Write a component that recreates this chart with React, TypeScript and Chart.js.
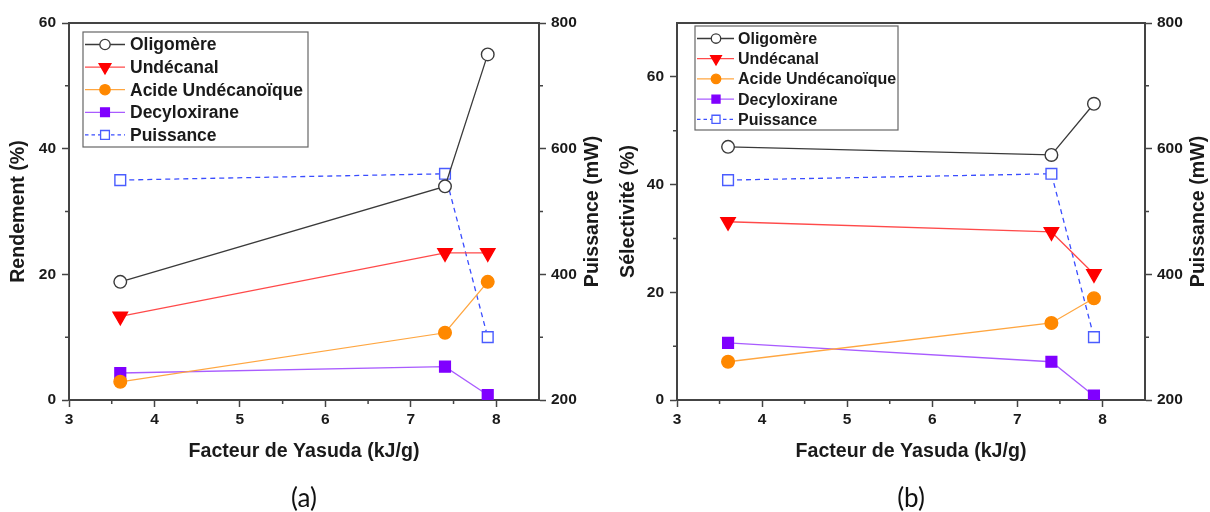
import React, { useEffect, useRef } from 'react';
import { Chart, registerables } from 'chart.js';
import { drawPoint } from 'chart.js/helpers';

Chart.register(...registerables);

// ---------- data ----------
const xValues = [3.6, 7.4, 7.9];
const seriesNames = ['Oligomère', 'Undécanal', 'Acide Undécanoïque', 'Decyloxirane', 'Puissance'];

// (a) Rendement (%)
const rendOligomere = [18.8, 34, 55];
const rendUndecanal = [13.3, 23.4, 23.4];
const rendAcide = [2.9, 10.7, 18.8];
const rendDecyloxirane = [4.3, 5.3, 0.8];

// (b) Sélectivité (%)
const selOligomere = [47, 45.5, 55];
const selUndecanal = [33.1, 31.2, 23.4];
const selAcide = [7.1, 14.3, 18.9];
const selDecyloxirane = [10.6, 7.1, 0.8];

// Puissance (mW)
const puissance = [550, 560, 300];

const xTicks = [3, 4, 5, 6, 7, 8];
const xMinorTicks = [3.5, 4.5, 5.5, 6.5, 7.5];
const yTicksA = [0, 20, 40, 60];
const yMinorA = [10, 30, 50];
const yTicksB = [0, 20, 40, 60];
const yMinorB = [10, 30, 50];
const y2Ticks = [200, 400, 600, 800];
const y2Minor = [300, 500, 700];

const FONT = "'Liberation Sans', Arial, Helvetica, sans-serif";
const AXIS = '#444444';
const TXT = '#1a1a1a';

const styles = [
  { line: '#3a3a3a', border: '#3a3a3a', fill: '#ffffff', style: 'circle', rot: 0, r: 6.3, dash: [] as number[] },
  { line: '#ff4a4a', border: '#ff0000', fill: '#ff0000', style: 'triangle', rot: 180, r: 8.3, dash: [] as number[] },
  { line: '#ffa640', border: '#ff8800', fill: '#ff8800', style: 'circle', rot: 0, r: 6.3, dash: [] as number[] },
  { line: '#a95cff', border: '#8000ff', fill: '#8000ff', style: 'rect', rot: 0, r: 7.6, dash: [] as number[] },
  { line: '#3a4dff', border: '#4a5cff', fill: '#ffffff', style: 'rect', rot: 0, r: 7.6, dash: [5, 4] },
];

type Cfg = {
  left: number;
  width: number;
  area: { left: number; right: number; top: number; bottom: number };
  yMax: number;
  yTicks: number[];
  yMinor: number[];
  yTitle: string;
  yTitleX: number;
  y2TitleX: number;
  series: number[][];
  legend: { x: number; y: number; w: number; h: number; row0: number; gap: number; font: number; l0: number; l1: number; m: number; t: number; ms: number };
  caption: string;
};

const H = 512;

function Panel({ cfg }: { cfg: Cfg }) {
  const ref = useRef<HTMLCanvasElement | null>(null);
  useEffect(() => {
    if (!ref.current) return;
    const { area } = cfg;
    const allSeries = [...cfg.series, puissance];
    const datasets = allSeries.map((vals, i) => {
      const s = styles[i];
      return {
        label: seriesNames[i],
        data: vals.map((v, k) => ({ x: xValues[k], y: v })),
        yAxisID: i === 4 ? 'y2' : 'y',
        borderColor: s.line,
        borderWidth: 1.3,
        borderDash: s.dash,
        pointStyle: s.style,
        pointRotation: s.rot,
        pointRadius: s.r,
        pointHoverRadius: s.r,
        pointBackgroundColor: s.fill,
        pointBorderColor: s.border,
        pointBorderWidth: 1.4,
        fill: false,
        tension: 0,
      };
    });

    const framePlugin = {
      id: 'frame',
      afterDraw(chart: any) {
        const ctx = chart.ctx;
        const ca = chart.chartArea;
        const sx = chart.scales.x, sy = chart.scales.y, sy2 = chart.scales.y2;
        ctx.save();
        ctx.strokeStyle = AXIS;
        ctx.lineWidth = 2;
        ctx.beginPath();
        ctx.moveTo(ca.left - 1, ca.top);
        ctx.lineTo(ca.right + 1, ca.top);
        ctx.stroke();
        // minor ticks
        ctx.lineWidth = 1.5;
        ctx.beginPath();
        xMinorTicks.forEach((v) => {
          const px = sx.getPixelForValue(v);
          ctx.moveTo(px, ca.bottom);
          ctx.lineTo(px, ca.bottom + 4);
        });
        cfg.yMinor.forEach((v) => {
          const py = sy.getPixelForValue(v);
          ctx.moveTo(ca.left, py);
          ctx.lineTo(ca.left - 4, py);
        });
        y2Minor.forEach((v) => {
          const py = sy2.getPixelForValue(v);
          ctx.moveTo(ca.right, py);
          ctx.lineTo(ca.right + 4, py);
        });
        ctx.stroke();

        // axis titles
        ctx.fillStyle = TXT;
        ctx.font = `bold 19.6px ${FONT}`;
        ctx.textAlign = 'center';
        ctx.textBaseline = 'middle';
        ctx.fillText('Facteur de Yasuda (kJ/g)', (ca.left + ca.right) / 2, 452);
        const cy = (ca.top + ca.bottom) / 2;
        ctx.save();
        ctx.translate(cfg.yTitleX, cy);
        ctx.rotate(-Math.PI / 2);
        ctx.fillText(cfg.yTitle, 0, 0);
        ctx.restore();
        ctx.save();
        ctx.translate(cfg.y2TitleX, cy);
        ctx.rotate(-Math.PI / 2);
        ctx.fillText('Puissance (mW)', 0, 0);
        ctx.restore();
        ctx.restore();
      },
      afterDatasetsDraw(chart: any) {
        const ctx = chart.ctx;
        const L = cfg.legend;
        ctx.save();
        ctx.fillStyle = '#ffffff';
        ctx.fillRect(L.x, L.y, L.w, L.h);
        ctx.strokeStyle = '#666666';
        ctx.lineWidth = 1.2;
        ctx.strokeRect(L.x, L.y, L.w, L.h);
        seriesNames.forEach((name, i) => {
          const s = styles[i];
          const y = L.row0 + i * L.gap;
          ctx.save();
          ctx.strokeStyle = s.line;
          ctx.lineWidth = 1.3;
          ctx.setLineDash(i === 4 ? [3.5, 3] : []);
          ctx.beginPath();
          ctx.moveTo(L.l0, y);
          ctx.lineTo(L.l1, y);
          ctx.stroke();
          ctx.setLineDash([]);
          ctx.fillStyle = s.fill;
          ctx.strokeStyle = s.border;
          ctx.lineWidth = 1.3;
          drawPoint(ctx, { pointStyle: s.style, rotation: s.rot, radius: s.r * L.ms, borderWidth: 1.3 } as any, L.m, y);
          ctx.restore();
          ctx.fillStyle = TXT;
          ctx.font = `bold ${L.font}px ${FONT}`;
          ctx.textAlign = 'left';
          ctx.textBaseline = 'middle';
          ctx.fillText(name, L.t, y + 1);
        });
        ctx.restore();
      },
    };

    const tickFont = { family: FONT, size: 15.5, weight: 'bold' as const };

    const chart = new Chart(ref.current, {
      type: 'line',
      data: { datasets: datasets as any },
      options: {
        animation: false,
        responsive: false,
        devicePixelRatio: 1,
        layout: { padding: { top: area.top, left: 0, right: 0, bottom: 0 } },
        plugins: { legend: { display: false }, tooltip: { enabled: false }, title: { display: false } },
        scales: {
          x: {
            type: 'linear',
            min: 3,
            max: 8.5,
            afterFit: (s: any) => { s.height = H - area.bottom; },
            afterBuildTicks: (s: any) => { s.ticks = xTicks.map((v) => ({ value: v })); },
            ticks: { font: tickFont, color: TXT, padding: 3, maxRotation: 0, callback: (v: any) => String(v) },
            grid: { drawOnChartArea: false, drawTicks: true, tickLength: 7, tickColor: AXIS, tickWidth: 1.5 },
            border: { display: true, color: AXIS, width: 2 },
          },
          y: {
            type: 'linear',
            position: 'left',
            min: 0,
            max: cfg.yMax,
            afterFit: (s: any) => { s.width = area.left; },
            afterBuildTicks: (s: any) => { s.ticks = cfg.yTicks.map((v) => ({ value: v })); },
            ticks: { font: tickFont, color: TXT, padding: 6, callback: (v: any) => String(v) },
            grid: { drawOnChartArea: false, drawTicks: true, tickLength: 7, tickColor: AXIS, tickWidth: 1.5 },
            border: { display: true, color: AXIS, width: 2 },
          },
          y2: {
            type: 'linear',
            position: 'right',
            min: 200,
            max: 800,
            afterFit: (s: any) => { s.width = cfg.width - area.right; },
            afterBuildTicks: (s: any) => { s.ticks = y2Ticks.map((v) => ({ value: v })); },
            ticks: { font: tickFont, color: TXT, padding: 5, callback: (v: any) => String(v) },
            grid: { drawOnChartArea: false, drawTicks: true, tickLength: 7, tickColor: AXIS, tickWidth: 1.5 },
            border: { display: true, color: AXIS, width: 2 },
          },
        },
      },
      plugins: [framePlugin],
    });
    return () => chart.destroy();
  }, [cfg]);

  return (
    <div style={{ position: 'absolute', left: cfg.left, top: 0, width: cfg.width, height: H }}>
      <canvas ref={ref} width={cfg.width} height={H} style={{ display: 'block' }} />
      <div
        style={{
          position: 'absolute',
          left: (cfg.area.left + cfg.area.right) / 2 - 40,
          width: 80,
          top: 482,
          textAlign: 'center',
          fontFamily: "Lato, 'Open Sans', sans-serif",
          fontSize: 26,
          color: '#111',
          lineHeight: '30px',
        }}
      >
        {cfg.caption}
      </div>
    </div>
  );
}

const cfgA: Cfg = {
  left: 0,
  width: 605,
  area: { left: 69, right: 539, top: 23, bottom: 400 },
  yMax: 60,
  yTicks: yTicksA,
  yMinor: yMinorA,
  yTitle: 'Rendement (%)',
  yTitleX: 19,
  y2TitleX: 593,
  series: [rendOligomere, rendUndecanal, rendAcide, rendDecyloxirane],
  legend: { x: 83, y: 32, w: 225, h: 115, row0: 44.5, gap: 22.6, font: 17.5, l0: 85, l1: 125, m: 105, t: 130, ms: 0.82 },
  caption: '(a)',
};

const cfgB: Cfg = {
  left: 605,
  width: 605,
  area: { left: 72, right: 540, top: 23, bottom: 400 },
  yMax: 70,
  yTicks: yTicksB,
  yMinor: yMinorB,
  yTitle: 'Sélectivité (%)',
  yTitleX: 24,
  y2TitleX: 594,
  series: [selOligomere, selUndecanal, selAcide, selDecyloxirane],
  legend: { x: 90, y: 26, w: 203, h: 104, row0: 38.5, gap: 20.2, font: 16, l0: 92, l1: 129, m: 111, t: 133, ms: 0.75 },
  caption: '(b)',
};

export default function App() {
  return (
    <div style={{ position: 'absolute', left: 0, top: 0, width: 1210, height: 512, background: '#ffffff', overflow: 'hidden' }}>
      <Panel cfg={cfgA} />
      <Panel cfg={cfgB} />
    </div>
  );
}
